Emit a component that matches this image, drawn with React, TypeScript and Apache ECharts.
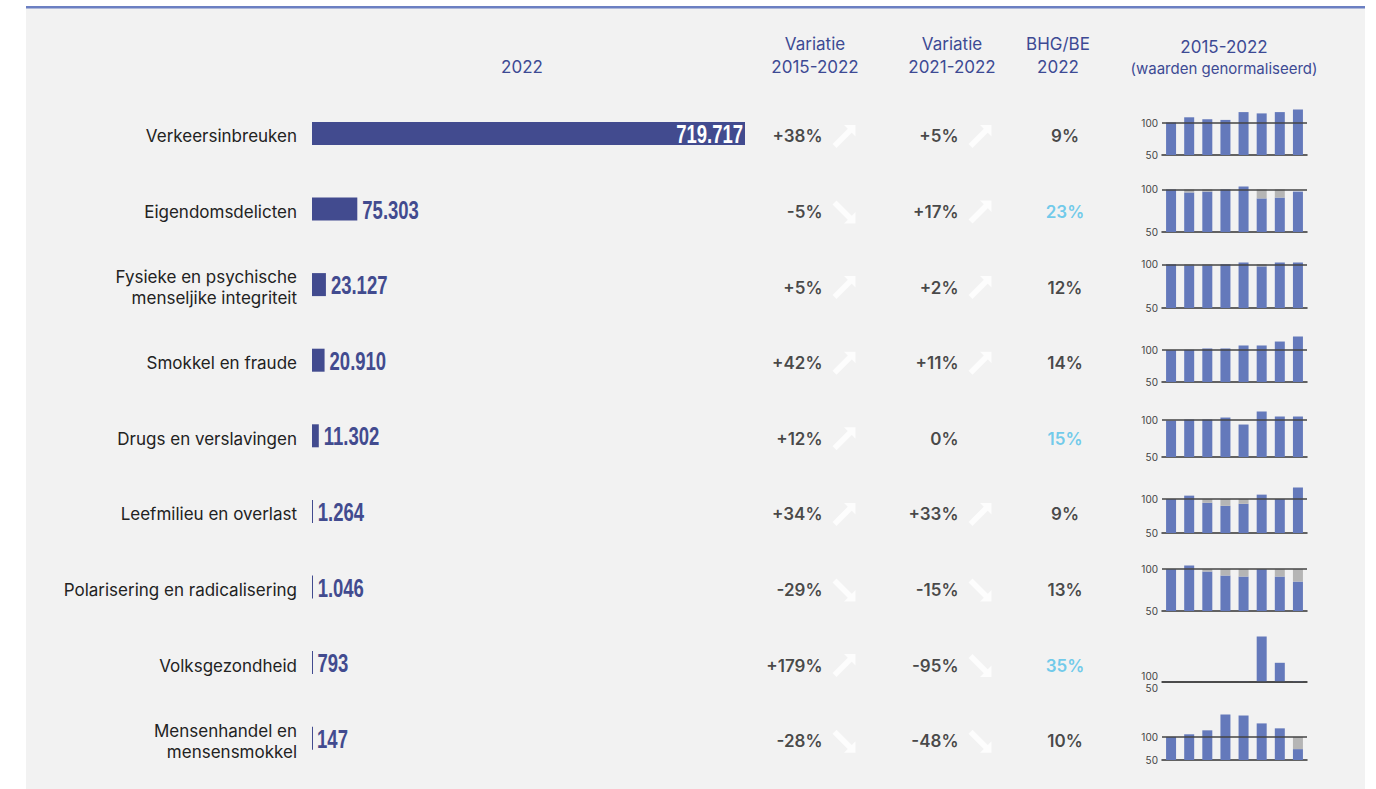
import React, { useEffect, useRef } from 'react';
import * as echarts from 'echarts';

// ---------- DATA ----------
const categories = [
  'Verkeersinbreuken',
  'Eigendomsdelicten',
  'Fysieke en psychische\nmenseljike integriteit',
  'Smokkel en fraude',
  'Drugs en verslavingen',
  'Leefmilieu en overlast',
  'Polarisering en radicalisering',
  'Volksgezondheid',
  'Mensenhandel en\nmensensmokkel',
];
const counts2022 = [719717, 75303, 23127, 20910, 11302, 1264, 1046, 793, 147];
const variation2015 = [38, -5, 5, 42, 12, 34, -29, 179, -28];
const variation2021 = [5, 17, 2, 11, 0, 33, -15, -95, -48];
const bhgShare = [9, 23, 12, 14, 15, 9, 13, 35, 10];
const years = ['2015', '2016', '2017', '2018', '2019', '2020', '2021', '2022'];
const sparkTicks = [50, 100];

// normalised values (2015 = 100) and the grey gap up to 100
const sparkVerkeer = [100, 108, 105, 104, 116, 114, 116, 120];
const gapVerkeer = [0, 0, 0, 0, 0, 0, 0, 0];
const sparkEigendom = [100, 96.5, 97.5, 100, 103.5, 89.5, 90.5, 97.5];
const gapEigendom = [0, 3.5, 2.5, 0, 0, 10.5, 9.5, 0];
const sparkFysiek = [100, 98.8, 98.8, 100, 102, 97.6, 102, 102];
const gapFysiek = [0, 1.2, 1.2, 0, 0, 2.4, 0, 0];
const sparkSmokkel = [100, 100.5, 102.6, 102.6, 107.3, 107.3, 113.5, 121.4];
const gapSmokkel = [0, 0, 0, 0, 0, 0, 0, 0];
const sparkDrugs = [99.5, 100.9, 100.9, 103.6, 94.1, 111.8, 105, 105];
const gapDrugs = [0, 0, 0, 0, 0, 0, 0, 0];
const sparkLeefmilieu = [100, 105, 94.5, 90, 93, 106.5, 100, 117];
const gapLeefmilieu = [0, 0, 5.5, 10, 7, 0, 0, 0];
const sparkPolarisering = [100, 104.4, 97.2, 92.4, 91.2, 100, 91.2, 85.2];
const gapPolarisering = [0, 0, 2.8, 7.6, 8.8, 0, 8.8, 14.8];
const sparkVolksgezondheid = [100, 95, 110, 130, 160, 13150, 5580, 279];
const gapVolksgezondheid = [0, 0, 0, 0, 0, 0, 0, 0];
const sparkMensenhandel = [100, 105.7, 114.3, 148.6, 146.4, 129.3, 118.6, 73.6];
const gapMensenhandel = [0, 0, 0, 0, 0, 0, 0, 26.4];

const sparkRows = [
  sparkVerkeer, sparkEigendom, sparkFysiek, sparkSmokkel, sparkDrugs,
  sparkLeefmilieu, sparkPolarisering, sparkVolksgezondheid, sparkMensenhandel,
];
const gapRows = [
  gapVerkeer, gapEigendom, gapFysiek, gapSmokkel, gapDrugs,
  gapLeefmilieu, gapPolarisering, gapVolksgezondheid, gapMensenhandel,
];

// ---------- LAYOUT / STYLE ----------
const SANS = 'Inter, Roboto, "Noto Sans", sans-serif';
const BAR_COLOR = '#424b8f';
const SPARK_BLUE = '#6479bb';
const SPARK_GREY = '#b5b5b5';
const HEAD_COLOR = '#3d4a94';
const HIGHLIGHT = '#4fc0e8';
const ROW_H = 75.6;
const sparkBottoms = [155, 232, 308, 382, 457, 533, 611, 682, 760];
const SPARK_H = 45.5;

const ARROW_UP = 'path://M12,0L24,0L24,12L20.1,8.1L4.2,24L0,19.8L15.9,3.9Z';
const ARROW_DOWN = 'path://M12,24L24,24L24,12L20.1,15.9L4.2,0L0,4.2L15.9,20.1Z';

const fmtThousands = (n: number) => String(n).replace(/\B(?=(\d{3})+(?!\d))/g, '.');
const fmtPct = (v: number) => (v > 0 ? '+' + v + '%' : v + '%');

function buildOption() {
  const maxCount = Math.max(...counts2022);
  const grids: any[] = [
    { left: 312, width: 433, top: 95.6, height: ROW_H * 9 },
    { left: 312, width: 788, top: 98.6, height: ROW_H * 9 },
  ];
  const xAxes: any[] = [
    { gridIndex: 0, type: 'value', min: 0, max: maxCount, show: false },
    { gridIndex: 1, type: 'value', min: 312, max: 1100, show: false },
  ];
  const yAxes: any[] = [
    { gridIndex: 0, type: 'category', data: categories, inverse: true, show: false },
    {
      gridIndex: 1, type: 'category', data: categories, inverse: true,
      axisLine: { show: false }, axisTick: { show: false },
      axisLabel: { margin: 15, color: '#222', fontSize: 17, lineHeight: 21, fontFamily: SANS },
    },
  ];

  const rowIdx = categories.map((_, i) => i);
  const textLabel = {
    show: true, color: '#1a1a1a', fontSize: 17, fontWeight: 600, fontFamily: SANS,
  };
  const series: any[] = [
    {
      type: 'bar', xAxisIndex: 0, yAxisIndex: 0, barWidth: 23, barMinHeight: 1,
      itemStyle: { color: BAR_COLOR },
      data: counts2022,
    },
    {
      type: 'custom', xAxisIndex: 0, yAxisIndex: 0, z: 5,
      data: counts2022.map((v, i) => [v, i]),
      encode: { x: 0, y: 1 },
      renderItem: (params: any, api: any) => {
        const v = api.value(0);
        const i = api.value(1);
        const pt = api.coord([v, i]);
        const inside = v > maxCount * 0.5;
        return {
          type: 'text',
          x: inside ? pt[0] - 2 : pt[0] + 5,
          y: pt[1] + 1,
          scaleX: 0.74,
          style: {
            text: fmtThousands(v),
            fill: inside ? '#ffffff' : BAR_COLOR,
            font: 'bold 25px "Liberation Sans", Arial, sans-serif',
            align: inside ? 'right' : 'left',
            verticalAlign: 'middle',
          },
        };
      },
    },
    {
      type: 'scatter', xAxisIndex: 1, yAxisIndex: 1, symbolSize: 1,
      itemStyle: { color: 'transparent' },
      data: rowIdx.map((i) => [823, i]),
      label: { ...textLabel, position: 'left', distance: 0, formatter: (p: any) => fmtPct(variation2015[p.dataIndex]) },
    },
    {
      type: 'scatter', xAxisIndex: 1, yAxisIndex: 1, symbolSize: 1,
      itemStyle: { color: 'transparent' },
      data: rowIdx.map((i) => [959, i]),
      label: { ...textLabel, position: 'left', distance: 0, formatter: (p: any) => fmtPct(variation2021[p.dataIndex]) },
    },
    {
      type: 'scatter', xAxisIndex: 1, yAxisIndex: 1, symbolSize: 1,
      itemStyle: { color: 'transparent' },
      data: rowIdx.map((i) => ({
        value: [1065, i],
        label: { color: bhgShare[i] >= 15 ? HIGHLIGHT : '#1a1a1a' },
      })),
      label: { ...textLabel, position: 'inside', formatter: (p: any) => bhgShare[p.dataIndex] + '%' },
    },
    {
      type: 'scatter', xAxisIndex: 1, yAxisIndex: 1, symbolSize: 23,
      itemStyle: { color: '#ffffff' },
      data: rowIdx
        .filter((i) => variation2015[i] !== 0)
        .map((i) => ({ value: [844, i], symbol: variation2015[i] > 0 ? ARROW_UP : ARROW_DOWN })),
    },
    {
      type: 'scatter', xAxisIndex: 1, yAxisIndex: 1, symbolSize: 23,
      itemStyle: { color: '#ffffff' },
      data: rowIdx
        .filter((i) => variation2021[i] !== 0)
        .map((i) => ({ value: [980, i], symbol: variation2021[i] > 0 ? ARROW_UP : ARROW_DOWN })),
    },
  ];

  sparkRows.forEach((blue, r) => {
    const gap = gapRows[r];
    const g = r + 2;
    const maxV = Math.max(...blue.map((v, k) => v + gap[k]));
    const crowded = (SPARK_H / (maxV - 50)) * 50 < 10;
    grids.push({ left: 1162, width: 145, top: sparkBottoms[r] - SPARK_H, height: SPARK_H });
    xAxes.push({
      gridIndex: g, type: 'category', data: years,
      axisLine: { show: true, lineStyle: { color: '#333', width: 1.5 } },
      axisTick: { show: false }, axisLabel: { show: false },
    });
    const yIdx = yAxes.length;
    // one value axis per labelled tick, so that the two labels never suppress each other
    sparkTicks.forEach((tick) => {
      yAxes.push({
        gridIndex: g, type: 'value', position: 'left', offset: 0,
        min: 50, max: maxV, interval: 50,
        splitLine: { show: false }, axisLine: { show: false }, axisTick: { show: false },
        axisLabel: {
          margin: 4, color: '#444', fontSize: 10, fontFamily: SANS,
          showMinLabel: true, showMaxLabel: false,
          formatter: (v: number) => {
            if (v !== tick) return '';
            if (!crowded) return String(v);
            return tick === 100 ? '{up|100}' : '{dn|50}';
          },
          rich: {
            up: { padding: [0, 0, 12, 0], color: '#444', fontSize: 10, fontFamily: SANS },
            dn: { padding: [12, 0, 0, 0], color: '#444', fontSize: 10, fontFamily: SANS },
          },
        },
      });
    });
    series.push({
      type: 'bar', xAxisIndex: g, yAxisIndex: yIdx, stack: 's' + r, barWidth: 10,
      itemStyle: { color: SPARK_BLUE }, data: blue,
      markLine: {
        silent: true, symbol: 'none', label: { show: false },
        lineStyle: { color: '#444', width: 1.5, type: 'solid' },
        data: [{ yAxis: 100 }],
      },
    });
    series.push({
      type: 'bar', xAxisIndex: g, yAxisIndex: yIdx, stack: 's' + r, barWidth: 10,
      itemStyle: { color: SPARK_GREY }, data: gap,
    });
  });

  const headText = (text: string, x: number, y: number, size = 17) => ({
    type: 'text', x, y, z: 50, silent: true,
    style: {
      text, fill: HEAD_COLOR, fontSize: size, fontFamily: SANS,
      align: 'center', verticalAlign: 'middle',
    },
  });

  return {
    animation: false,
    backgroundColor: '#ffffff',
    graphic: [
      { type: 'rect', z: 0, silent: true, shape: { x: 26, y: 8, width: 1339, height: 781 }, style: { fill: '#f2f2f2' } },
      { type: 'rect', z: 1, silent: true, shape: { x: 26, y: 6, width: 1339, height: 2.5 }, style: { fill: '#6b7fc2' } },
      headText('2022', 522, 67),
      headText('Variatie', 815, 44),
      headText('2015-2022', 815, 67),
      headText('Variatie', 952, 44),
      headText('2021-2022', 952, 67),
      headText('BHG/BE', 1058, 44),
      headText('2022', 1058, 67),
      headText('2015-2022', 1224, 47, 17),
      headText('(waarden genormaliseerd)', 1224, 68, 15),
    ],
    grid: grids,
    xAxis: xAxes,
    yAxis: yAxes,
    series,
  };
}

export default function App() {
  const ref = useRef<HTMLDivElement>(null);
  useEffect(() => {
    document.body.style.margin = '0';
    if (!ref.current) return;
    const chart = echarts.init(ref.current, null, { renderer: 'svg' });
    chart.setOption(buildOption() as any);
    return () => chart.dispose();
  }, []);
  return <div ref={ref} style={{ width: 1376, height: 789 }} />;
}
